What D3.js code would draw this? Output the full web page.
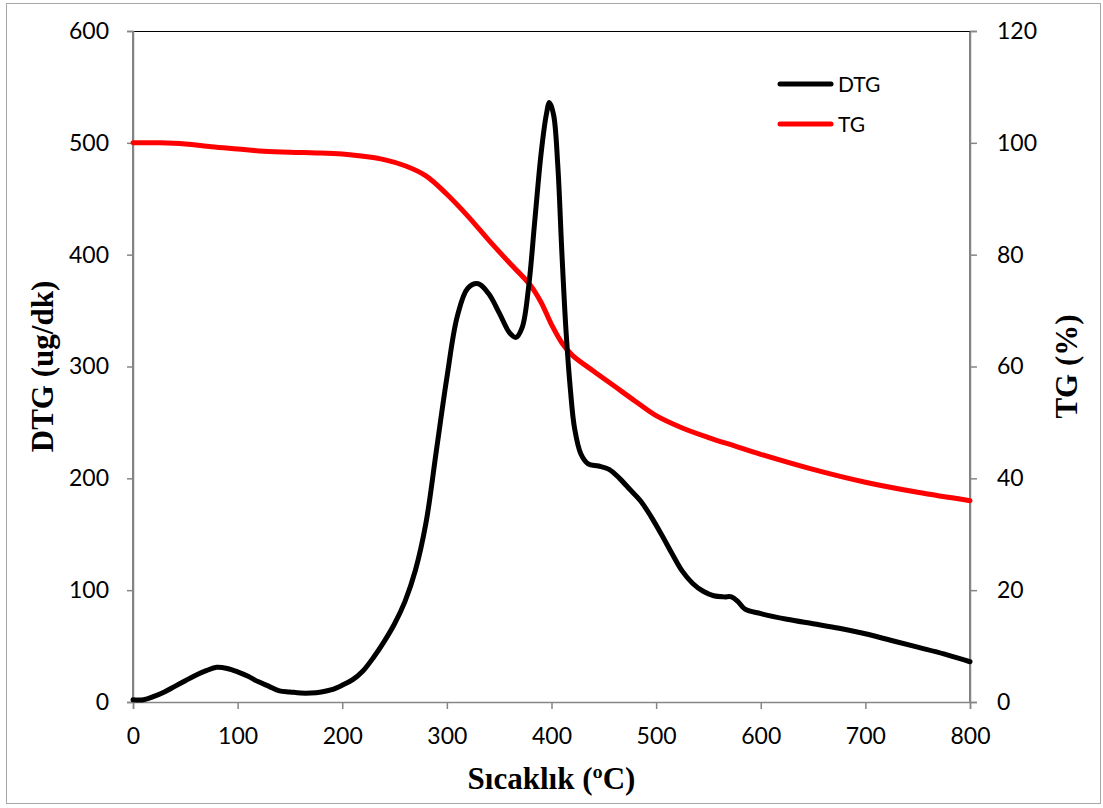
<!DOCTYPE html>
<html>
<head>
<meta charset="utf-8">
<script src="https://cdn.jsdelivr.net/npm/d3@7"></script>
<style>
  html, body { margin: 0; padding: 0; background: #fff; }
  svg { display: block; }
</style>
</head>
<body>
<svg id="chart" width="1103" height="808"></svg>
<script>
// ---- data ----
const dtgTemp = [0, 10, 20, 30, 40, 50, 60, 70, 80, 90, 100, 110, 120, 130, 140, 150, 160, 170, 180, 190, 200, 210, 220, 230, 240, 250, 260, 270, 280, 290, 300, 310, 320, 330, 340, 350, 360, 366, 372, 378, 384, 390, 395, 398, 402, 406, 410, 414, 418, 422, 428, 435, 445, 455, 465, 475, 485, 495, 505, 515, 525, 535, 545, 555, 565, 572, 578, 585, 600, 625, 650, 675, 700, 725, 750, 775, 800];
const dtgValues = [2, 2, 5, 9, 14, 19, 24, 28, 31, 30, 27, 23, 18, 14, 10, 9, 8, 8, 9, 11, 15, 20, 28, 40, 54, 70, 90, 118, 160, 225, 290, 345, 370, 374, 365, 348, 330, 326, 335, 370, 430, 490, 525, 536, 525, 480, 400, 330, 280, 245, 222, 213, 211, 208, 200, 190, 180, 166, 150, 133, 117, 106, 99, 95, 94, 94, 90, 83, 79, 74, 70, 66, 61, 55, 49, 43, 36];
const tgTemp = [0, 25, 50, 75, 100, 125, 150, 175, 200, 220, 240, 260, 280, 300, 320, 340, 360, 380, 390, 400, 410, 420, 440, 460, 480, 500, 525, 550, 575, 600, 650, 700, 750, 800];
const tgValues = [100, 100, 99.8, 99.3, 98.9, 98.5, 98.3, 98.2, 98.0, 97.6, 97.0, 95.9, 94.1, 90.8, 86.9, 82.6, 78.5, 74.5, 71.5, 67.5, 64.2, 62.0, 59.2, 56.5, 53.8, 51.2, 49.0, 47.3, 45.8, 44.3, 41.6, 39.3, 37.5, 36.0];
const xTicks = [0, 100, 200, 300, 400, 500, 600, 700, 800];
const yLeftTicks = [0, 100, 200, 300, 400, 500, 600];
const yRightTicks = [0, 20, 40, 60, 80, 100, 120];
const seriesNames = ["DTG", "TG"];
const seriesColors = ["#000000", "#ff0000"];
const xTitle = "Sıcaklık (ºC)";
const yLeftTitle = "DTG (ug/dk)";
const yRightTitle = "TG (%)";

// ---- layout ----
const L = 133, R = 970, T = 31, B = 702;
const svg = d3.select("#chart");
const tickFont = "Lato, 'Liberation Sans', sans-serif";
const titleFont = "'Liberation Serif', 'Times New Roman', serif";

// outer border
svg.append("rect").attr("x", 6.5).attr("y", 3.5).attr("width", 1094).attr("height", 800)
  .attr("fill", "#fff").attr("stroke", "#a6a6a6").attr("stroke-width", 1);

const x = d3.scaleLinear().domain([0, 800]).range([L, R]);
const yL = d3.scaleLinear().domain([0, 600]).range([B, T]);
const yR = d3.scaleLinear().domain([0, 120]).range([B, T]);

// plot area border
svg.append("rect").attr("x", L).attr("y", T + 0.5).attr("width", R - L).attr("height", B - T)
  .attr("fill", "none").attr("stroke", "#000").attr("stroke-width", 1);

function styleAxis(g) {
  g.selectAll("path").attr("stroke", "#868686").attr("stroke-width", 1.5);
  g.selectAll("line").attr("stroke", "#868686").attr("stroke-width", 1.5);
  g.selectAll("text").attr("font-family", tickFont).attr("font-size", "23px").attr("fill", "#000");
}

const gx = svg.append("g").attr("transform", `translate(0,${B})`)
  .call(d3.axisBottom(x).tickValues(xTicks).tickSizeOuter(0).tickSize(7).tickPadding(19));
styleAxis(gx);

const gyl = svg.append("g").attr("transform", `translate(${L},0)`)
  .call(d3.axisLeft(yL).tickValues(yLeftTicks).tickSizeOuter(0).tickSize(6).tickPadding(18));
styleAxis(gyl);

const gyr = svg.append("g").attr("transform", `translate(${R},0)`)
  .call(d3.axisRight(yR).tickValues(yRightTicks).tickSizeOuter(0).tickSize(7).tickPadding(20));
styleAxis(gyr);

// lines
const dtgData = dtgTemp.map((t, i) => [t, dtgValues[i]]);
const tgData = tgTemp.map((t, i) => [t, tgValues[i]]);

svg.append("path").datum(tgData)
  .attr("fill", "none").attr("stroke", seriesColors[1]).attr("stroke-width", 5)
  .attr("stroke-linejoin", "round").attr("stroke-linecap", "round")
  .attr("d", d3.line().x(d => x(d[0])).y(d => yR(d[1])).curve(d3.curveCatmullRom));

svg.append("path").datum(dtgData)
  .attr("fill", "none").attr("stroke", seriesColors[0]).attr("stroke-width", 5)
  .attr("stroke-linejoin", "round").attr("stroke-linecap", "round")
  .attr("d", d3.line().x(d => x(d[0])).y(d => yL(d[1])).curve(d3.curveCatmullRom));

// axis titles
svg.append("text").attr("x", (L + R) / 2).attr("y", 789).attr("text-anchor", "middle")
  .attr("font-family", titleFont).attr("font-weight", "bold").attr("font-size", "31px")
  .text(xTitle);

svg.append("text").attr("transform", `translate(53,${(T + B) / 2}) rotate(-90)`)
  .attr("text-anchor", "middle")
  .attr("font-family", titleFont).attr("font-weight", "bold").attr("font-size", "31px")
  .text(yLeftTitle);

svg.append("text").attr("transform", `translate(1077,${(T + B) / 2}) rotate(-90)`)
  .attr("text-anchor", "middle")
  .attr("font-family", titleFont).attr("font-weight", "bold").attr("font-size", "31px")
  .text(yRightTitle);

// legend
const legY = [84, 124];
seriesNames.forEach((name, i) => {
  svg.append("line").attr("x1", 780).attr("x2", 831).attr("y1", legY[i]).attr("y2", legY[i])
    .attr("stroke", seriesColors[i]).attr("stroke-width", 5).attr("stroke-linecap", "round");
  svg.append("text").attr("x", 838).attr("y", legY[i] + 8)
    .attr("font-family", tickFont).attr("font-size", "21px").attr("fill", "#000")
    .text(name);
});
</script>
</body>
</html>
